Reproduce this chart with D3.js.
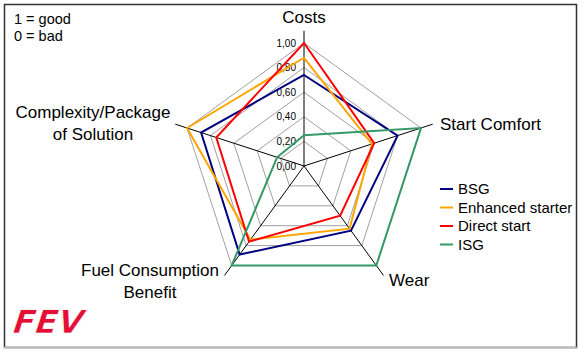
<!DOCTYPE html>
<html><head><meta charset="utf-8">
<script src="https://cdn.jsdelivr.net/npm/d3@7"></script>
<style>body{margin:0;background:#fff}svg{display:block;font-family:"Liberation Sans",Arial,sans-serif}</style>
</head><body><svg id="c" width="584" height="356"></svg>
<script>
const axes = ["Costs", "Start Comfort", "Wear", "Fuel Consumption Benefit", "Complexity/Package of Solution"];
const seriesNames = ["BSG", "Enhanced starter", "Direct start", "ISG"];
const bsg = [0.74, 0.80, 0.65, 0.89, 0.88];
const enhanced = [0.88, 0.58, 0.63, 0.74, 1.00];
const direct = [1.00, 0.60, 0.50, 0.76, 0.75];
const isg = [0.25, 1.00, 1.00, 1.00, 0.23];
const tickValues = [0, 0.2, 0.4, 0.6, 0.8, 1.0];
const tickLabels = ["0,00", "0,20", "0,40", "0,60", "0,80", "1,00"];
const colors = ["#000080", "#FFA500", "#FF0000", "#339966"];

const svg = d3.select("#c");
const cx = 304, cy = 166;
const r = d3.scaleLinear().domain([0, 1]).range([0, 123]);
const ang = d3.scalePoint().domain(d3.range(axes.length + 1)).range([0, 2 * Math.PI]);
const pt = (i, v) => [cx + r(v) * Math.sin(ang(i)), cy - r(v) * Math.cos(ang(i))];

// frame
svg.append("rect").attr("x", 4.5).attr("y", 4.5).attr("width", 572).attr("height", 343)
  .attr("fill", "#fff").attr("stroke", "#333").attr("stroke-width", 1.5);
svg.append("line").attr("x1", 4).attr("x2", 578).attr("y1", 347.5).attr("y2", 347.5)
  .attr("stroke", "#bbb").attr("stroke-width", 1.5);

// grid rings
tickValues.slice(1).forEach(t => {
  svg.append("polygon").attr("points", axes.map((a, i) => pt(i, t).join(",")).join(" "))
    .attr("fill", "none").attr("stroke", "#a0a0a0").attr("stroke-width", 1);
});
// spokes
axes.forEach((a, i) => {
  const p = pt(i, 1.1);
  svg.append("line").attr("x1", cx).attr("y1", cy).attr("x2", p[0]).attr("y2", p[1])
    .attr("stroke", "#000").attr("stroke-width", 1);
});
// tick labels
tickValues.forEach((t, k) => {
  svg.append("text").attr("x", cx - 8).attr("y", cy - r(t)).attr("dy", "0.35em")
    .attr("text-anchor", "end").attr("font-size", 10).text(tickLabels[k]);
});

// series
const data = [bsg, enhanced, direct, isg];
const line = d3.line().curve(d3.curveLinearClosed);
data.forEach((vals, s) => {
  svg.append("path").attr("d", line(vals.map((v, i) => pt(i, v))))
    .attr("fill", "none").attr("stroke", colors[s]).attr("stroke-width", 2)
    .attr("stroke-linejoin", "miter");
});

// axis labels
const lab = (x, y, lines, anchor) => {
  const t = svg.append("text").attr("x", x).attr("y", y).attr("text-anchor", anchor).attr("font-size", 17);
  lines.forEach((l, k) => t.append("tspan").attr("x", x).attr("dy", k ? 22 : 0).text(l));
};
lab(304, 23, ["Costs"], "middle");
lab(440, 130, ["Start Comfort"], "start");
lab(389, 286, ["Wear"], "start");
lab(150, 276, ["Fuel Consumption", "Benefit"], "middle");
lab(93, 118, ["Complexity/Package", "of Solution"], "middle");

// note
svg.append("text").attr("x", 14).attr("y", 24).attr("font-size", 14.5).text("1 = good");
svg.append("text").attr("x", 14).attr("y", 41).attr("font-size", 14.5).text("0 = bad");

// legend
seriesNames.forEach((n, k) => {
  const y = 189 + k * 18.5;
  svg.append("line").attr("x1", 440).attr("x2", 453).attr("y1", y).attr("y2", y)
    .attr("stroke", colors[k]).attr("stroke-width", 2);
  svg.append("text").attr("x", 458).attr("y", y).attr("dy", "0.36em").attr("font-size", 15).text(n);
});

// logo
svg.append("text").attr("x", 0).attr("y", 0).attr("font-size", 32).attr("font-weight", "bold")
  .attr("font-family", "'DejaVu Sans', sans-serif")
  .attr("fill", "#e30f35").attr("stroke", "#fff").attr("stroke-width", 0.7)
  .attr("textLength", 70).attr("lengthAdjust", "spacingAndGlyphs")
  .attr("transform", "translate(10,333) skewX(-18)").text("FEV");
</script></body></html>
